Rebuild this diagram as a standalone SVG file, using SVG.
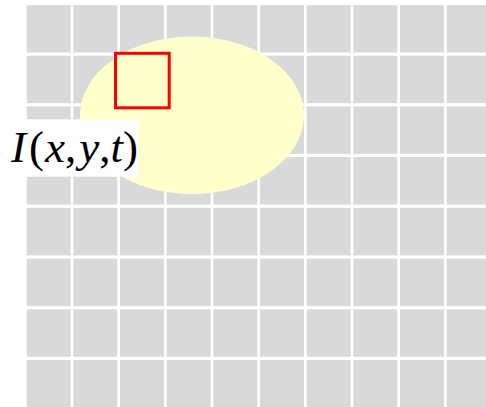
<svg xmlns="http://www.w3.org/2000/svg" width="486" height="407" viewBox="0 0 486 407">
<style>
.c{fill:#D9D9D9}
.lbl{font-family:"Liberation Serif","Times New Roman",serif;font-size:45px;fill:#000}
.it{font-style:italic}
</style>
<rect width="486" height="407" fill="#FFFFFF"/>
<g id="grid">
<defs>
<g id="row">
<rect class="c" x="26.7" y="0" width="44" height="47.5"/>
<rect class="c" x="73.3" y="0" width="44" height="47.5"/>
<rect class="c" x="120" y="0" width="44" height="47.5"/>
<rect class="c" x="166.7" y="0" width="44" height="47.5"/>
<rect class="c" x="213.3" y="0" width="44" height="47.5"/>
<rect class="c" x="260" y="0" width="44" height="47.5"/>
<rect class="c" x="306.7" y="0" width="44" height="47.5"/>
<rect class="c" x="353.3" y="0" width="44" height="47.5"/>
<rect class="c" x="400" y="0" width="44" height="47.5"/>
<rect class="c" x="446.7" y="0" width="44" height="47.5"/>
</g>
</defs>
<use href="#row" y="5"/>
<use href="#row" y="55.7"/>
<use href="#row" y="106.4"/>
<use href="#row" y="157.1"/>
<use href="#row" y="207.9"/>
<use href="#row" y="258.6"/>
<use href="#row" y="309.3"/>
<use href="#row" y="360"/>
</g>
<g id="region">
<ellipse cx="192" cy="115.3" rx="112" ry="78.7" fill="#FFFFCC"/>
</g>
<g id="window">
<rect x="115.5" y="53.3" width="53.7" height="54.5" fill="none" stroke="#FF0000" stroke-width="3"/>
</g>
<g id="label">
<rect x="4" y="119.3" width="134.3" height="57.4" fill="#FFFFFF"/>
<text class="lbl" x="11" y="161.7"><tspan class="it">I</tspan><tspan dx="3">(</tspan><tspan class="it" dx="1">x</tspan><tspan>,</tspan><tspan class="it" dx="3">y</tspan><tspan>,</tspan><tspan class="it">t</tspan><tspan>)</tspan></text>
</g>
</svg>
